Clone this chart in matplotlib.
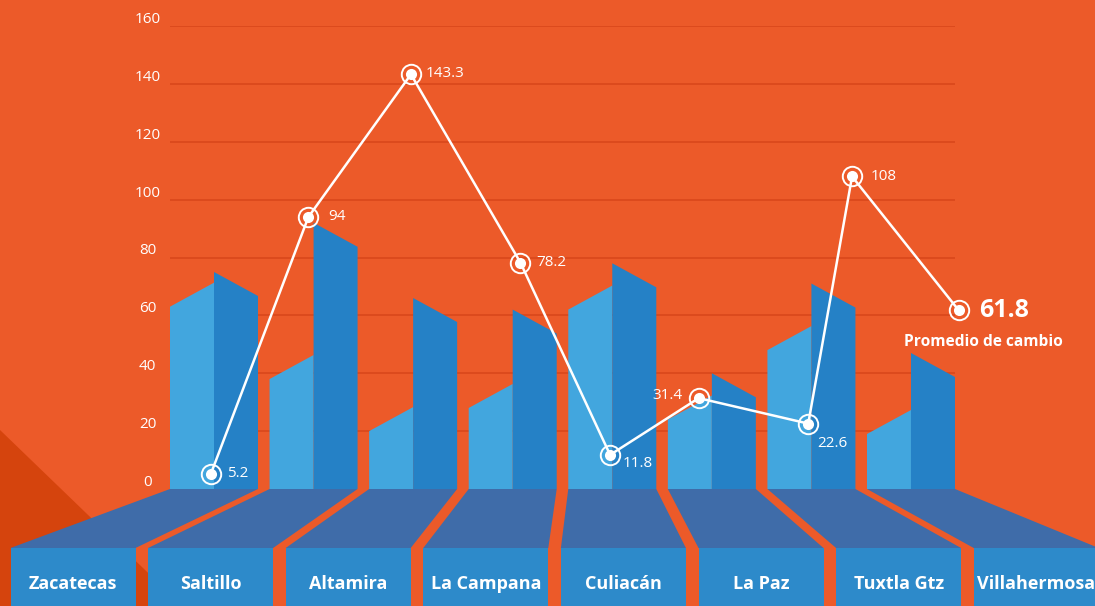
import numpy as np
import matplotlib
matplotlib.use("Agg")
import matplotlib.pyplot as plt
from matplotlib.patches import Polygon, Rectangle
import matplotlib.transforms as mtransforms

# ---------------- data ----------------
categories = ["Zacatecas", "Saltillo", "Altamira", "La Campana",
              "Culiacán", "La Paz", "Tuxtla Gtz", "Villahermosa"]
cambio = [5.2, 94, 143.3, 78.2, 11.8, 31.4, 22.6, 108]
cambio_labels = ["5.2", "94", "143.3", "78.2", "11.8", "31.4", "22.6", "108"]
promedio = 61.8
promedio_label = "61.8"
promedio_text = "Promedio de cambio"
barra_clara = [63, 38, 20, 28, 62, 24, 48, 19]
barra_oscura = [75, 92, 66, 62, 78, 40, 71, 47]
y_ticks = [0, 20, 40, 60, 80, 100, 120, 140, 160]
y_tick_labels = ["0", "20", "40", "60", "80", "100", "120", "140", "160"]

# ---------------- layout / style ----------------
W, H, DPI = 1095, 606, 100
AX_L, AX_R = 170, 955          # px
Y0_PX, YTOP_PX = 489, 26       # px (y=0 and y=160)
PITCH = 99.57                  # px per category (bars)
BAR_W = 88                     # px
SLANT = 8.3                    # data units of roof slope
FRONT_L0, FRONT_PITCH, FRONT_W = 10.5, 137.6, 125
PLAT_BOT, IMG_BOT = 548, 606
marker_x = [0.41, 1.39, 2.42, 3.52, 4.42, 5.31, 6.41, 6.85]
avg_x = 7.92
# label offsets in px (dx right, dy down), ha
label_offsets = [(16, 0, "left"), (20, 0, "left"), (15, -1, "left"), (16, 0, "left"),
                 (13, 9, "left"), (-16, -3, "right"), (9, 20, "left"), (19, 0, "left")]

BG = "#EC5A29"
GRID = "#D8461A"
DARK_BG = "#D5440D"
LIGHT_BLUE = "#42A6DE"
DARK_BLUE = "#2581C6"
PLAT_TOP = "#3F6CA9"
PLAT_FRONT = "#2D8ACA"
FONT = ["Open Sans", "DejaVu Sans"]

fig = plt.figure(figsize=(W / DPI, H / DPI), dpi=DPI)
fig.patch.set_facecolor(BG)

# background / platform axes in pixel space
bg = fig.add_axes([0, 0, 1, 1], zorder=0)
bg.set_xlim(0, W)
bg.set_ylim(H, 0)
bg.axis("off")
bg.add_patch(Polygon([(0, 430), (200, 623), (0, 623)], closed=True,
                     facecolor=DARK_BG, edgecolor="none"))
for i, name in enumerate(categories):
    L = AX_L + PITCH * i
    F = FRONT_L0 + FRONT_PITCH * i
    bg.add_patch(Polygon([(L, Y0_PX), (L + BAR_W, Y0_PX),
                          (F + FRONT_W, PLAT_BOT), (F, PLAT_BOT)], closed=True,
                         facecolor=PLAT_TOP, edgecolor="none"))
    bg.add_patch(Rectangle((F, PLAT_BOT), FRONT_W, IMG_BOT - PLAT_BOT + 5,
                           facecolor=PLAT_FRONT, edgecolor="none"))
    bg.text(F + FRONT_W / 2, 584, name, ha="center", va="center", color="white",
            fontsize=13, fontweight="bold", family=FONT)

# main data axes
ax = fig.add_axes([AX_L / W, (H - Y0_PX) / H, (AX_R - AX_L) / W, (Y0_PX - YTOP_PX) / H],
                  zorder=1)
ax.patch.set_visible(False)
for s in ax.spines.values():
    s.set_visible(False)
ax.set_xlim(0, (AX_R - AX_L) / PITCH)
ax.set_ylim(0, 160)
ax.set_xticks([])
ax.set_yticks([])

ax.hlines(y_ticks[1:], 0, (AX_R - AX_L) / PITCH, colors=GRID, linewidth=1.1, zorder=1)

# tick labels (centered, slightly above grid lines)
tick_trans = mtransforms.blended_transform_factory(fig.transFigure, ax.transData)
tick_trans = mtransforms.offset_copy(tick_trans, fig=fig, y=6.5 * 72 / DPI, units="points")
for t, lab in zip(y_ticks, y_tick_labels):
    ax.text(147.5 / W, t, lab, transform=tick_trans, ha="center", va="center",
            color="white", fontsize=11, family=FONT, clip_on=False)

w = BAR_W / PITCH
for i in range(len(categories)):
    lc, dk = barra_clara[i], barra_oscura[i]
    ax.add_patch(Polygon([(i, 0), (i, lc), (i + w / 2, lc + SLANT), (i + w / 2, 0)],
                         closed=True, facecolor=LIGHT_BLUE, edgecolor="none", zorder=2))
    ax.add_patch(Polygon([(i + w / 2, 0), (i + w / 2, dk), (i + w, dk - SLANT), (i + w, 0)],
                         closed=True, facecolor=DARK_BLUE, edgecolor="none", zorder=2))

xs = marker_x + [avg_x]
ys = cambio + [promedio]
ax.plot(xs, ys, color="white", linewidth=1.8, zorder=3, clip_on=False,
        solid_joinstyle="round")
ax.plot(xs, ys, linestyle="none", marker="o", markersize=14, markerfacecolor="none",
        markeredgecolor="white", markeredgewidth=1.4, zorder=4, clip_on=False)
ax.plot(xs, ys, linestyle="none", marker="o", markersize=8, markerfacecolor="white",
        markeredgecolor="white", markeredgewidth=0, zorder=5, clip_on=False)

pt = 72 / DPI
for x, y, lab, (dx, dy, ha) in zip(marker_x, cambio, cambio_labels, label_offsets):
    ax.annotate(lab, (x, y), xytext=(dx * pt, -dy * pt), textcoords="offset points",
                ha=ha, va="center", color="white", fontsize=11, family=FONT,
                annotation_clip=False, zorder=6)

ax.annotate(promedio_label, (avg_x, promedio), xytext=(21 * pt, 0),
            textcoords="offset points", ha="left", va="center", color="white",
            fontsize=18, fontweight="bold", family=FONT, annotation_clip=False)
ax.annotate(promedio_text, (avg_x, promedio), xytext=(25 * pt, -32 * pt),
            textcoords="offset points", ha="center", va="center", color="white",
            fontsize=11.2, fontweight="bold", family=FONT, annotation_clip=False)

fig.savefig("out.png", dpi=DPI, facecolor=BG)
